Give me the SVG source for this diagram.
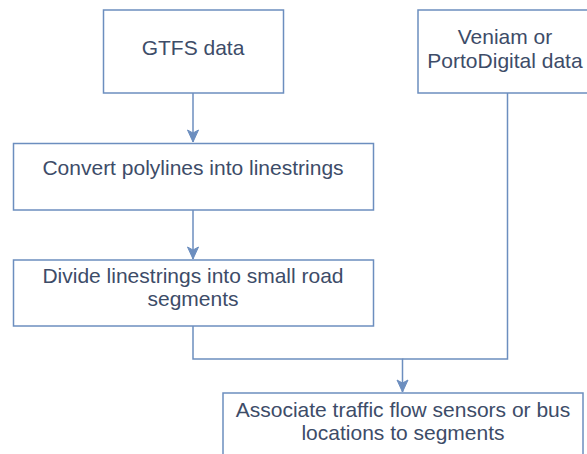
<svg xmlns="http://www.w3.org/2000/svg" width="587" height="454" viewBox="0 0 587 454">
  <style>
    .box { fill: #ffffff; stroke: #6c8ebf; stroke-width: 1.5; }
    .lbl { font-family: "Liberation Sans", Arial, Helvetica, sans-serif; font-size: 21px; fill: #3d4c68; text-anchor: middle; }
    .edge { fill: none; stroke: #6c8ebf; stroke-width: 1.5; }
  </style>
  <defs>
    <marker id="arrow" markerUnits="userSpaceOnUse" markerWidth="14" markerHeight="14" viewBox="0 0 14 14" refX="13" refY="7" orient="auto">
      <path d="M1,1.5 L13,7 L1,12.5 L4,7 Z" fill="#6c8ebf" stroke="#6c8ebf" stroke-width="1"/>
    </marker>
  </defs>
  <rect width="587" height="454" fill="#ffffff"/>

  <g id="connectors">
    <path class="edge" d="M193,93 L193,142" marker-end="url(#arrow)"/>
    <path class="edge" d="M193,210 L193,259" marker-end="url(#arrow)"/>
    <path class="edge" d="M193,326 L193,359 L402.5,359 L402.5,392" marker-end="url(#arrow)"/>
    <path class="edge" d="M507.5,93 L507.5,359 L402.5,359"/>
  </g>

  <g id="gtfs">
    <rect class="box" x="103.5" y="10" width="180" height="83"/>
    <text class="lbl" x="193" y="55">GTFS data</text>
  </g>

  <g id="veniam">
    <rect class="box" x="418" y="10" width="174" height="83"/>
    <text class="lbl" x="505" y="44">Veniam or</text>
    <text class="lbl" x="505" y="68">PortoDigital data</text>
  </g>

  <g id="convert">
    <rect class="box" x="13.5" y="143.5" width="360" height="66.5"/>
    <text class="lbl" x="193" y="175">Convert polylines into linestrings</text>
  </g>

  <g id="divide">
    <rect class="box" x="13.5" y="260" width="360" height="66"/>
    <text class="lbl" x="193" y="283">Divide linestrings into small road</text>
    <text class="lbl" x="193" y="306">segments</text>
  </g>

  <g id="associate">
    <rect class="box" x="223" y="393" width="360" height="80"/>
    <text class="lbl" x="403" y="417">Associate traffic flow sensors or bus</text>
    <text class="lbl" x="403" y="440">locations to segments</text>
  </g>
</svg>
